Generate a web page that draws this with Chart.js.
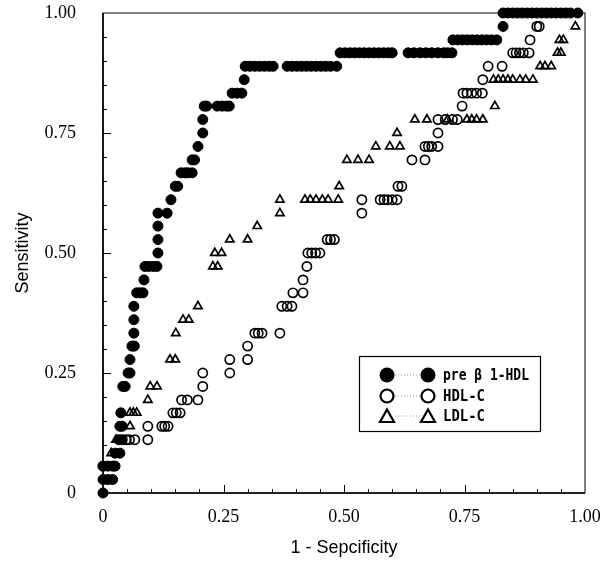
<!DOCTYPE html>
<html>
<head>
<meta charset="utf-8">
<script src="https://cdn.jsdelivr.net/npm/chart.js@4.4.0/dist/chart.umd.min.js"></script>
<style>
  html, body { margin: 0; padding: 0; background: #fff; }
</style>
</head>
<body>
<canvas id="rocChart" width="607" height="561"></canvas>
<script>
const xTicks = [0, 0.25, 0.5, 0.75, 1];
const yTicks = [0, 0.25, 0.5, 0.75, 1];
const seriesNames = ["pre β 1-HDL", "HDL-C", "LDL-C"];

// each row: [sensitivity, [1 - specificity values at that sensitivity]]
const preB1Rows = [
  [0, [0]],
  [0.028, [0, 0.01, 0.02]],
  [0.056, [0, 0.01, 0.02, 0.025]],
  [0.083, [0.025, 0.035]],
  [0.111, [0.033, 0.04]],
  [0.139, [0.035, 0.04]],
  [0.167, [0.037]],
  [0.222, [0.041, 0.046]],
  [0.25, [0.052, 0.056]],
  [0.278, [0.056]],
  [0.306, [0.06, 0.065]],
  [0.333, [0.064]],
  [0.361, [0.064]],
  [0.389, [0.064]],
  [0.417, [0.07, 0.077, 0.083]],
  [0.444, [0.085]],
  [0.472, [0.087, 0.095, 0.104, 0.112]],
  [0.5, [0.114]],
  [0.528, [0.114]],
  [0.556, [0.114]],
  [0.583, [0.114, 0.133]],
  [0.611, [0.141]],
  [0.639, [0.15, 0.155]],
  [0.667, [0.162, 0.17, 0.176, 0.185]],
  [0.694, [0.185, 0.19]],
  [0.722, [0.197]],
  [0.75, [0.207]],
  [0.778, [0.207]],
  [0.806, [0.21, 0.215, 0.237, 0.247, 0.256, 0.262]],
  [0.833, [0.268, 0.278, 0.288]],
  [0.861, [0.293]],
  [0.889, [0.295, 0.305, 0.315, 0.325, 0.335, 0.345, 0.353, 0.382, 0.392, 0.402, 0.412, 0.422, 0.432, 0.442, 0.452, 0.462, 0.472, 0.485]],
  [0.917, [0.492, 0.502, 0.512, 0.522, 0.532, 0.542, 0.552, 0.562, 0.572, 0.582, 0.592, 0.6, 0.633, 0.645, 0.658, 0.67, 0.682, 0.695, 0.707, 0.715, 0.724]],
  [0.944, [0.726, 0.736, 0.746, 0.756, 0.766, 0.776, 0.786, 0.796, 0.806, 0.817]],
  [0.972, [0.83]],
  [1, [0.83, 0.84, 0.85, 0.86, 0.87, 0.88, 0.89, 0.9, 0.91, 0.92, 0.93, 0.94, 0.95, 0.96, 0.97, 0.985]]
];

const hdlRows = [
  [0.056, [0]],
  [0.111, [0.048, 0.055, 0.066, 0.093]],
  [0.139, [0.093, 0.122, 0.128, 0.135]],
  [0.167, [0.145, 0.152, 0.16]],
  [0.194, [0.163, 0.175, 0.197]],
  [0.222, [0.207]],
  [0.25, [0.207, 0.263]],
  [0.278, [0.263, 0.3]],
  [0.306, [0.3]],
  [0.333, [0.315, 0.322, 0.33, 0.367]],
  [0.389, [0.371, 0.382, 0.392]],
  [0.417, [0.394, 0.415]],
  [0.444, [0.415]],
  [0.472, [0.423]],
  [0.5, [0.425, 0.433, 0.441, 0.45]],
  [0.528, [0.465, 0.472, 0.48]],
  [0.583, [0.537]],
  [0.611, [0.537, 0.575, 0.583, 0.59, 0.6, 0.61]],
  [0.639, [0.612, 0.62]],
  [0.694, [0.641, 0.668]],
  [0.722, [0.668, 0.675, 0.682, 0.695]],
  [0.75, [0.695]],
  [0.778, [0.695, 0.71, 0.725, 0.735]],
  [0.806, [0.745]],
  [0.833, [0.747, 0.755, 0.765, 0.775, 0.787]],
  [0.861, [0.788]],
  [0.889, [0.799, 0.828]],
  [0.917, [0.85, 0.857, 0.864, 0.872, 0.884]],
  [0.944, [0.886]],
  [0.972, [0.9, 0.905]]
];

const ldlRows = [
  [0.083, [0.017]],
  [0.111, [0.027]],
  [0.139, [0.056]],
  [0.167, [0.056, 0.063, 0.07]],
  [0.194, [0.093]],
  [0.222, [0.098, 0.112]],
  [0.278, [0.139, 0.15]],
  [0.333, [0.151]],
  [0.361, [0.166, 0.178]],
  [0.389, [0.197]],
  [0.472, [0.228, 0.238]],
  [0.5, [0.232, 0.246]],
  [0.528, [0.263, 0.3]],
  [0.556, [0.32]],
  [0.583, [0.367]],
  [0.611, [0.367, 0.419, 0.43, 0.442, 0.455, 0.467, 0.488]],
  [0.639, [0.49]],
  [0.694, [0.506, 0.529, 0.552]],
  [0.722, [0.566, 0.595, 0.616]],
  [0.75, [0.61]],
  [0.778, [0.647, 0.672, 0.715, 0.755, 0.765, 0.775, 0.788]],
  [0.806, [0.813]],
  [0.861, [0.81, 0.82, 0.83, 0.84, 0.85, 0.865, 0.877, 0.892]],
  [0.889, [0.907, 0.917, 0.93]],
  [0.917, [0.943, 0.95]],
  [0.944, [0.947, 0.955]],
  [0.972, [0.98]]
];

function toPoints(rows) {
  const pts = [];
  rows.forEach(([sens, xs]) => xs.forEach(x => pts.push({ x: x, y: sens })));
  return pts;
}

const fmtTick = v => (v === 0 ? "0" : v.toFixed(2));
const tickFont = { family: "'Liberation Serif', serif", size: 18 };
const titleFont = { family: "'Liberation Sans', Arial, sans-serif", size: 18 };

// frame + inward tick marks, and the boxed legend
const framePlugin = {
  id: "framePlugin",
  beforeDatasetsDraw(chart) {
    const { ctx, chartArea: a, scales } = chart;
    ctx.save();
    ctx.strokeStyle = "#000";
    ctx.lineWidth = 1;
    ctx.strokeRect(a.left, a.top, a.right - a.left, a.bottom - a.top);
    ctx.lineWidth = 1.6;
    ctx.beginPath();
    ctx.moveTo(a.left, a.top);
    ctx.lineTo(a.left, a.bottom);
    ctx.lineTo(a.right, a.bottom);
    ctx.stroke();
    ctx.lineWidth = 1;
    for (let i = 1; i < 20; i++) {
      const len = i % 5 === 0 ? 8 : 4;
      const px = Math.round(scales.x.getPixelForValue(i / 20)) + 0.5;
      const py = Math.round(scales.y.getPixelForValue(i / 20)) + 0.5;
      ctx.beginPath();
      ctx.moveTo(px, a.bottom);
      ctx.lineTo(px, a.bottom - len);
      ctx.moveTo(a.left, py);
      ctx.lineTo(a.left + len, py);
      ctx.stroke();
    }
    ctx.restore();
  },
  afterDraw(chart) {
    const { ctx, chartArea: a } = chart;
    const bx = a.left + 256, by = a.top + 343, bw = 181, bh = 75;
    ctx.save();
    ctx.fillStyle = "#fff";
    ctx.fillRect(bx, by, bw, bh);
    ctx.strokeStyle = "#000";
    ctx.lineWidth = 1.2;
    ctx.strokeRect(bx + 0.5, by + 0.5, bw, bh);
    const rows = [by + 19, by + 40, by + 60];
    const m1 = bx + 28, m2 = bx + 69;
    rows.forEach((ry, i) => {
      ctx.strokeStyle = "#999";
      ctx.lineWidth = 1;
      ctx.setLineDash([1, 2]);
      ctx.beginPath();
      ctx.moveTo(m1 + 8, ry);
      ctx.lineTo(m2 - 8, ry);
      ctx.stroke();
      ctx.setLineDash([]);
      ctx.strokeStyle = "#000";
      ctx.fillStyle = "#000";
      ctx.lineWidth = 2.2;
      [m1, m2].forEach(mx => {
        ctx.beginPath();
        if (i === 2) {
          ctx.moveTo(mx, ry - 6.5);
          ctx.lineTo(mx + 7, ry + 6);
          ctx.lineTo(mx - 7, ry + 6);
          ctx.closePath();
          ctx.stroke();
        } else {
          ctx.arc(mx, ry, i === 0 ? 7.5 : 6.5, 0, Math.PI * 2);
          if (i === 0) ctx.fill(); else ctx.stroke();
        }
      });
      ctx.font = "bold 15px 'DejaVu Sans Mono', monospace";
      ctx.textBaseline = "middle";
      ctx.fillStyle = "#000";
      ctx.fillText(seriesNames[i], bx + 84, ry + 1, i === 0 ? 86 : 42);
    });
    ctx.restore();
  }
};

new Chart("rocChart", {
  type: "scatter",
  data: {
    datasets: [{
      label: seriesNames[0],
      data: toPoints(preB1Rows),
      pointStyle: "circle",
      pointRadius: 5,
      backgroundColor: "#000",
      borderColor: "#000",
      borderWidth: 1,
      clip: false
    }, {
      label: seriesNames[1],
      data: toPoints(hdlRows),
      pointStyle: "circle",
      pointRadius: 4.6,
      backgroundColor: "rgba(0,0,0,0)",
      borderColor: "#000",
      borderWidth: 1.7,
      clip: false
    }, {
      label: seriesNames[2],
      data: toPoints(ldlRows),
      pointStyle: "triangle",
      pointRadius: 4.8,
      backgroundColor: "rgba(0,0,0,0)",
      borderColor: "#000",
      borderWidth: 1.7,
      clip: false
    }]
  },
  options: {
    responsive: false,
    animation: false,
    layout: { padding: { top: 13, right: 22, left: 0, bottom: 0 } },
    plugins: { legend: { display: false }, tooltip: { enabled: false } },
    scales: {
      x: {
        type: "linear", min: 0, max: 1,
        afterBuildTicks: s => { s.ticks = xTicks.map(v => ({ value: v })); },
        afterFit: s => { s.height = 68; s.paddingLeft = 0; s.paddingRight = 0; },
        grid: { display: false },
        border: { display: false },
        ticks: { padding: 5, color: "#000", font: tickFont, maxRotation: 0, autoSkip: false, callback: fmtTick },
        title: { display: true, text: "1 - Sepcificity", color: "#000", font: titleFont, padding: { top: 0, bottom: 2 } }
      },
      y: {
        type: "linear", min: 0, max: 1,
        afterBuildTicks: s => { s.ticks = yTicks.map(v => ({ value: v })); },
        afterFit: s => { s.width = 103; s.paddingTop = 0; s.paddingBottom = 0; },
        grid: { display: false },
        border: { display: false },
        ticks: { padding: 19, color: "#000", font: tickFont, autoSkip: false, callback: fmtTick },
        title: { display: true, text: "Sensitivity", color: "#000", font: titleFont, padding: { top: 12, bottom: 0 } }
      }
    }
  },
  plugins: [framePlugin]
});
</script>
</body>
</html>
